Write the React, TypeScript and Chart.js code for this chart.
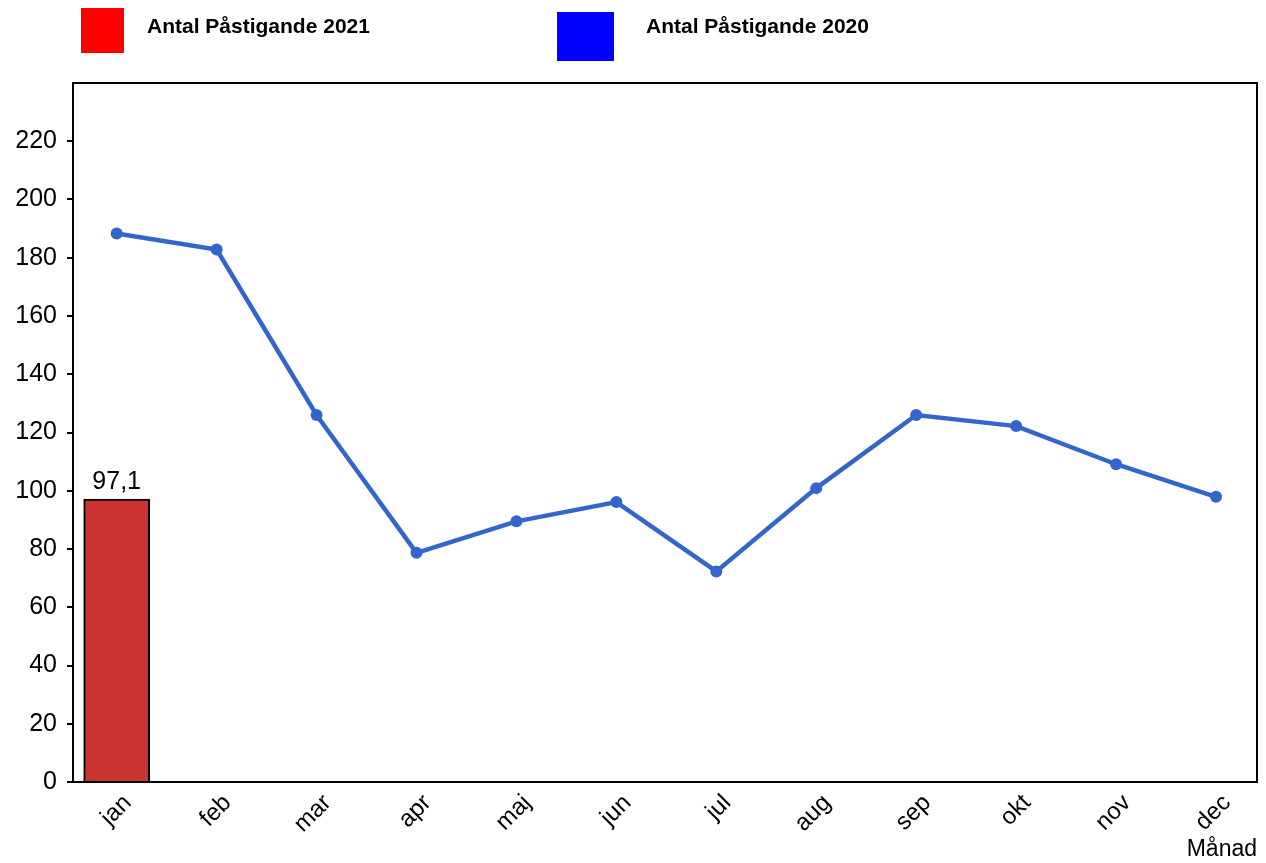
import React, { useEffect, useRef } from "react";
import { Chart, registerables } from "chart.js";

Chart.register(...registerables);

const months = ["jan", "feb", "mar", "apr", "maj", "jun", "jul", "aug", "sep", "okt", "nov", "dec"];
const values2021 = [97.1];
const values2020 = [188.3, 182.8, 126.0, 78.7, 89.5, 96.1, 72.3, 100.9, 126.0, 122.2, 109.1, 97.9];
const yTickValues = [0, 20, 40, 60, 80, 100, 120, 140, 160, 180, 200, 220];
const legendLabels = ["Antal Påstigande 2021", "Antal Påstigande 2020"];
const legendColors = ["#ff0000", "#0000ff"];
const xTitle = "Månad";

const FONT = "'Liberation Sans', Arial, sans-serif";

const framePlugin = {
  id: "frame",
  afterDatasetsDraw(chart: any) {
    const { ctx, chartArea } = chart;
    ctx.save();
    ctx.strokeStyle = "#000";
    ctx.lineWidth = 2;
    ctx.strokeRect(chartArea.left, chartArea.top, chartArea.right - chartArea.left, chartArea.bottom - chartArea.top);
    ctx.restore();
  },
};

const barLabelPlugin = {
  id: "barLabel",
  afterDatasetsDraw(chart: any) {
    const { ctx } = chart;
    const meta = chart.getDatasetMeta(0);
    ctx.save();
    ctx.fillStyle = "#000";
    ctx.font = `25px ${FONT}`;
    ctx.textAlign = "center";
    ctx.textBaseline = "alphabetic";
    meta.data.forEach((el: any, i: number) => {
      const v = values2021[i];
      ctx.fillText(String(v).replace(".", ","), el.x, el.y - 10);
    });
    ctx.restore();
  },
};

const legendPlugin = {
  id: "customLegend",
  afterDraw(chart: any) {
    const { ctx } = chart;
    const boxes = [
      { x: 81, y: 8, w: 43, h: 45, tx: 147 },
      { x: 557, y: 12, w: 57, h: 49, tx: 646 },
    ];
    ctx.save();
    ctx.font = `bold 21px ${FONT}`;
    ctx.textBaseline = "alphabetic";
    ctx.textAlign = "left";
    boxes.forEach((b, i) => {
      ctx.fillStyle = legendColors[i];
      ctx.fillRect(b.x, b.y, b.w, b.h);
      ctx.fillStyle = "#000";
      ctx.fillText(legendLabels[i], b.tx, 33);
    });
    ctx.restore();
  },
};

export default function App() {
  const canvasRef = useRef<HTMLCanvasElement | null>(null);

  useEffect(() => {
    const canvas = canvasRef.current;
    if (!canvas) return;
    const chart = new Chart(canvas, {
      type: "bar",
      data: {
        datasets: [
          {
            type: "bar",
            label: legendLabels[0],
            data: values2021.map((v, i) => ({ x: i, y: v })),
            backgroundColor: "#cc3333",
            borderColor: "#000",
            borderWidth: 2,
            barThickness: 66,
            order: 2,
          } as any,
          {
            type: "line",
            label: legendLabels[1],
            data: values2020.map((v, i) => ({ x: i, y: v })),
            borderColor: "#3366cc",
            backgroundColor: "#3366cc",
            borderWidth: 4.5,
            pointRadius: 6,
            pointBorderWidth: 0,
            pointBackgroundColor: "#3366cc",
            tension: 0,
            order: 1,
          } as any,
        ],
      },
      options: {
        responsive: false,
        animation: false,
        layout: { padding: { top: 83, right: 9, left: 0, bottom: 0 } },
        plugins: {
          legend: { display: false },
          tooltip: { enabled: false },
          title: { display: false },
        },
        scales: {
          x: {
            type: "linear",
            offset: false,
            min: -0.437,
            max: 11.41,
            afterBuildTicks: (scale: any) => {
              scale.ticks = months.map((_, i) => ({ value: i }));
            },
            afterFit: (scale: any) => {
              scale.height = 81;
            },
            grid: { display: false, drawTicks: false, offset: false },
            border: { display: false },
            ticks: {
              autoSkip: false,
              minRotation: 45,
              maxRotation: 45,
              padding: 7,
              labelOffset: 11,
              color: "#000",
              font: { family: FONT, size: 24 },
              callback: (v: any) => months[v] ?? "",
            },
            title: {
              display: true,
              text: xTitle,
              align: "end",
              color: "#000",
              font: { family: FONT, size: 23 },
              padding: { top: 0, bottom: 0 },
            },
          },
          y: {
            type: "linear",
            min: 0,
            max: 240,
            afterBuildTicks: (scale: any) => {
              scale.ticks = yTickValues.map((v) => ({ value: v }));
            },
            afterFit: (scale: any) => {
              scale.width = 73;
            },
            grid: { drawOnChartArea: false, drawTicks: true, tickLength: 6, color: "#000", lineWidth: 2 },
            border: { display: false },
            ticks: {
              padding: 10,
              color: "#000",
              font: { family: FONT, size: 25 },
            },
          },
        },
      },
      plugins: [framePlugin, barLabelPlugin, legendPlugin],
    } as any);
    return () => chart.destroy();
  }, []);

  return (
    <div style={{ position: "absolute", left: 0, top: 0, width: 1266, height: 863, background: "#fff" }}>
      <canvas ref={canvasRef} width={1266} height={863} />
    </div>
  );
}
